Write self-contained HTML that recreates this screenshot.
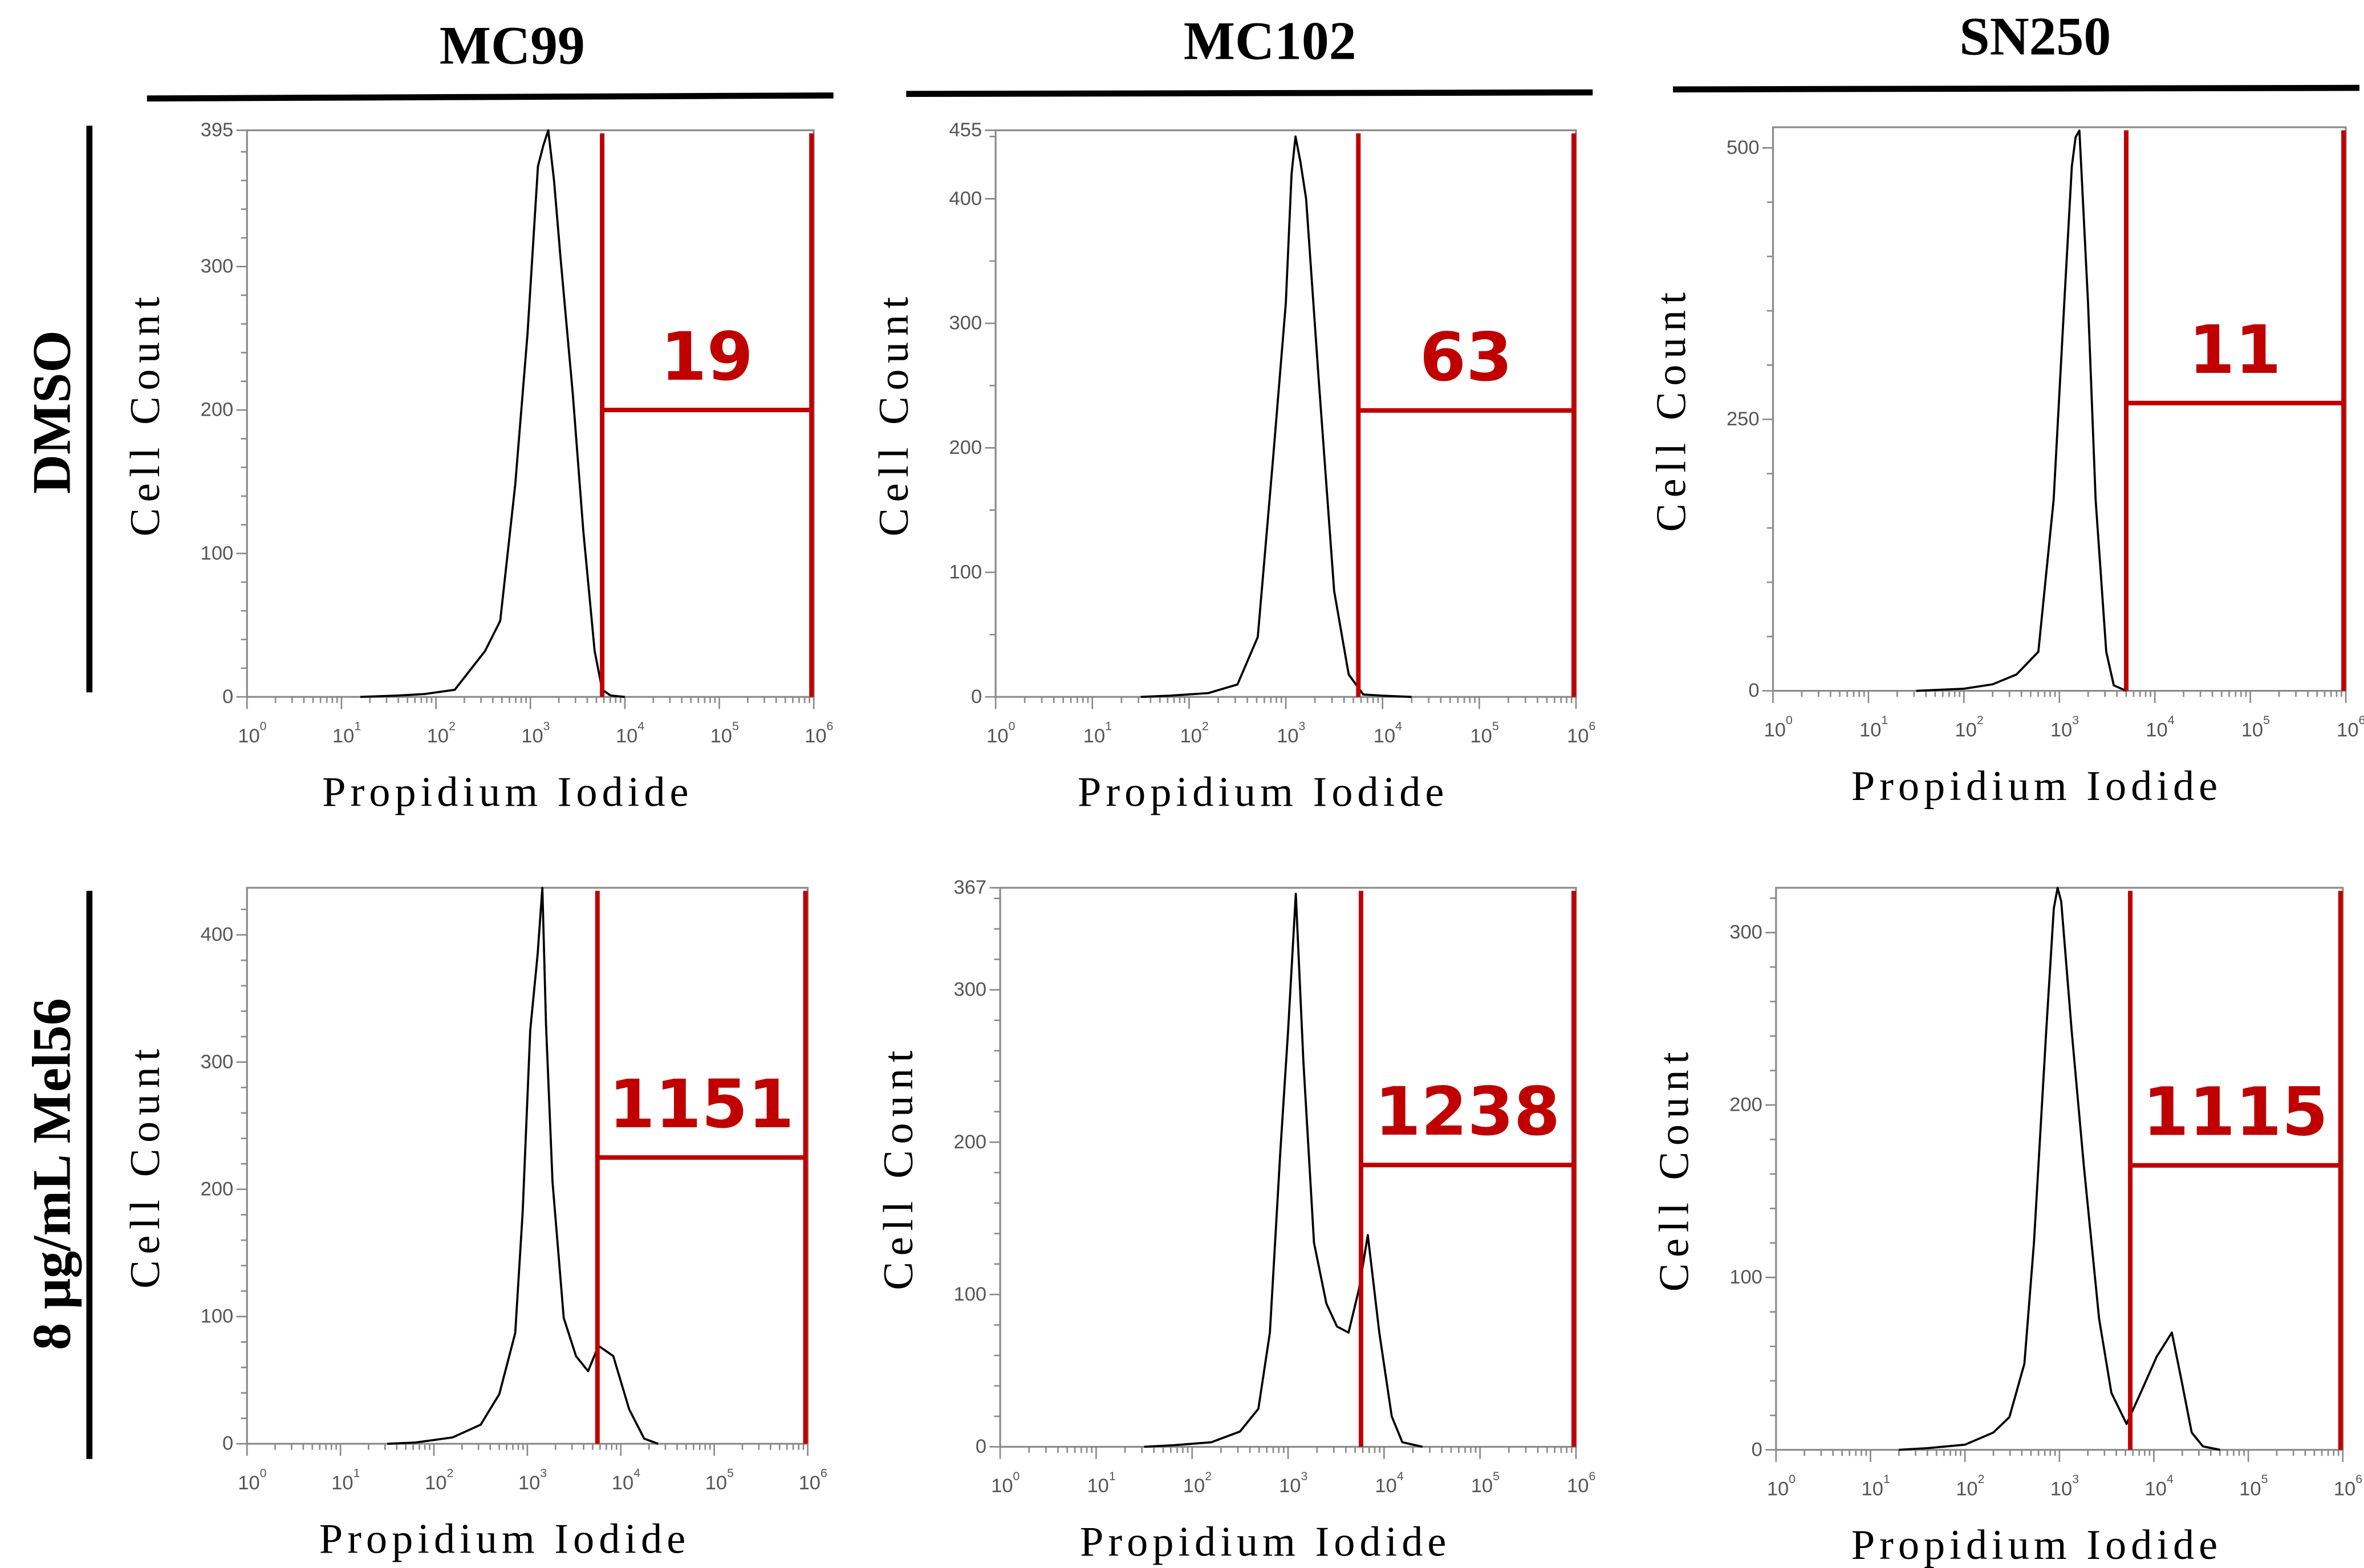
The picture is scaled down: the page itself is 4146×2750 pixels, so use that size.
<!DOCTYPE html>
<html><head><meta charset="utf-8"><style>
html,body{margin:0;padding:0;background:#fff;}
svg{display:block;}
</style></head><body>
<svg id="fig" xmlns="http://www.w3.org/2000/svg" width="4146" height="2750" viewBox="0 0 1560 1035" preserveAspectRatio="none">
<g font-family="Liberation Serif, serif" font-weight="bold" font-size="36" text-anchor="middle" fill="#000">
<text x="338" y="42">MC99</text>
<text x="838" y="39">MC102</text>
<text x="1343" y="36">SN250</text>
</g>
<g stroke="#000" stroke-width="4">
<line x1="97" y1="65" x2="550" y2="63"/>
<line x1="598" y1="62" x2="1051" y2="61"/>
<line x1="1104" y1="59" x2="1557" y2="58"/>
<line x1="59" y1="83" x2="59" y2="457"/>
<line x1="59" y1="588" x2="59" y2="963"/>
</g>
<text transform="translate(46,272) rotate(-90)" text-anchor="middle" font-family="Liberation Serif, serif" font-weight="bold" font-size="36">DMSO</text>
<text transform="translate(46,775) rotate(-90)" text-anchor="middle" font-family="Liberation Serif, serif" font-weight="bold" font-size="36">8 μg/mL Mel56</text>
</svg>
<script>
// Histogram data: log10(PI intensity) and cell counts per panel
const logs1 = [1.2,1.6,1.88,2.2,2.52,2.68,2.84,2.97,3.08,3.14,3.19,3.25,3.32,3.45,3.56,3.68,3.76,3.85,4.0];
const counts1 = [0,1,2,5,32,53,148,253,370,385,395,360,306,211,116,32,5,1,0];
const logs2 = [1.5,1.8,2.2,2.5,2.71,2.87,3.0,3.06,3.1,3.15,3.21,3.34,3.5,3.65,3.8,4.0,4.3];
const counts2 = [0,1,3,10,48,193,316,420,450,430,400,255,85,18,2,1,0];
const logs3 = [1.5,2.0,2.3,2.55,2.78,2.94,3.05,3.13,3.17,3.21,3.3,3.38,3.49,3.57,3.7];
const counts3 = [0,2,6,15,36,176,357,483,510,516,357,176,36,5,0];
const logs4 = [1.5,1.8,2.2,2.5,2.7,2.87,2.95,3.03,3.11,3.16,3.2,3.27,3.39,3.52,3.65,3.76,3.92,4.09,4.25,4.4];
const counts4 = [0,1,5,15,39,87,182,325,385,437,330,206,99,69,57,77,69,27,4,0];
const logs5 = [1.5,1.8,2.2,2.5,2.69,2.81,2.92,3.0,3.08,3.16,3.27,3.4,3.51,3.63,3.74,3.83,3.95,4.08,4.19,4.4];
const counts5 = [0,1,3,10,25,75,194,273,363,253,134,94,79,75,104,139,75,20,3,0];
const logs6 = [1.3,1.6,2.0,2.3,2.47,2.63,2.73,2.86,2.94,2.98,3.02,3.13,3.26,3.42,3.55,3.71,3.86,4.03,4.19,4.29,4.4,4.52,4.7];
const counts6 = [0,1,3,10,19,50,120,243,314,326,318,243,164,76,33,15,33,54,68,41,10,2,0];
const yTicks1=[0,100,200,300,395], yTicks2=[0,100,200,300,400,455], yTicks3=[0,250,500], yTicks4=[0,100,200,300,400], yTicks5=[0,100,200,300,367], yTicks6=[0,100,200,300];
const gateLabels = ["19","63","11","1151","1238","1115"];
const yMaxes = [395,455,519,437,367,326];
const gateLogs = [3.76,3.75,3.7,3.75,3.76,3.75];
const gateHeights = [200,230,265,225,185,165];

const panels = [
 {name:'mc99-dmso', L:163,T:86,R:537,B:460, logs:logs1, counts:counts1, ticks:yTicks1},
 {name:'mc102-dmso', L:657,T:86,R:1040,B:460, logs:logs2, counts:counts2, ticks:yTicks2},
 {name:'sn250-dmso', L:1170,T:84,R:1548,B:456, logs:logs3, counts:counts3, ticks:yTicks3},
 {name:'mc99-mel56', L:163,T:586,R:533,B:953, logs:logs4, counts:counts4, ticks:yTicks4},
 {name:'mc102-mel56', L:660,T:586,R:1040,B:955, logs:logs5, counts:counts5, ticks:yTicks5},
 {name:'sn250-mel56', L:1172,T:586,R:1546,B:957, logs:logs6, counts:counts6, ticks:yTicks6}
];
const NS='http://www.w3.org/2000/svg';
const svg=document.getElementById('fig');
function mk(tag, attrs, parent){const e=document.createElementNS(NS,tag);for(const k in attrs)e.setAttribute(k,attrs[k]);parent.appendChild(e);return e;}
panels.forEach((p,i)=>{
 const g=mk('g',{},svg);
 
 
 const ymax=yMaxes[i];
 const xs=v=>p.L+(p.R-p.L)*v/6;
 const ys=v=>p.B-(p.B-p.T)*v/ymax;
 const box=mk('rect',{x:p.L,y:p.T,width:p.R-p.L,height:p.B-p.T,fill:'none',stroke:'#8a8a8a','stroke-width':1.2},g);
 
 
 let d='';
 for(let dec=0;dec<=6;dec++){
   const x=xs(dec); d+=`M${x},${p.B}v8`;
   if(dec<6) for(let m=2;m<=9;m++){const xx=xs(dec+Math.log10(m)); d+=`M${xx},${p.B}v4`;}
   const t=mk('text',{x:x-6,y:p.B+30,'font-family':'Liberation Sans, sans-serif','font-size':13,fill:'#555'},g);
   t.textContent='10';
   const s=mk('tspan',{dy:-8,'font-size':8},t); s.textContent=String(dec);
   
   
 }
 const step=ymax>450?50:20;
 for(let v=step;v<ymax;v+=step){ d+=`M${p.L},${ys(v)}h-4`; }
 p.ticks.forEach(v=>{
   d+=`M${p.L},${ys(v)}h-7`;
   const t=mk('text',{x:p.L-9,y:ys(v)+4,'text-anchor':'end','font-family':'Liberation Sans, sans-serif','font-size':13,fill:'#555'},g);
   t.textContent=String(v);
   
   
 });
 const tk=mk('path',{d:d,stroke:'#8a8a8a','stroke-width':1,fill:'none'},g);
 
 
 const pts=p.logs.map((l,k)=>xs(l).toFixed(1)+','+ys(p.counts[k]).toFixed(1)).join(' ');
 const line=mk('polyline',{points:pts,fill:'none',stroke:'#000','stroke-width':1.4,'stroke-linejoin':'round'},g);
 
 
 const gx=xs(gateLogs[i]), gy=ys(gateHeights[i]), gr=p.R-1.5;
 const gate=mk('path',{d:`M${gx},${p.T+2}V${p.B}M${gr},${p.T+2}V${p.B}M${gx},${gy}H${gr}`,stroke:'#c00000','stroke-width':3,fill:'none'},g);
 
 
 const gl=mk('text',{x:(gx+gr)/2,y:gy-20,'text-anchor':'middle','font-family':'DejaVu Sans, sans-serif','font-weight':'bold','font-size':44,fill:'#c00000'},g);
 gl.textContent=gateLabels[i];
 
 
 const yt=mk('text',{transform:`translate(${p.L-58},${(p.T+p.B)/2}) rotate(-90)`,'text-anchor':'middle','font-family':'Liberation Serif, serif','font-size':28,'letter-spacing':4,fill:'#000'},g);
 yt.textContent='Cell Count';
 
 
 const xt=mk('text',{x:(p.L+p.R)/2-15,y:p.B+72,'text-anchor':'middle','font-family':'Liberation Serif, serif','font-size':28,'letter-spacing':3,fill:'#000'},g);
 xt.textContent='Propidium  Iodide';
 
 
});
</script>
</body></html>
